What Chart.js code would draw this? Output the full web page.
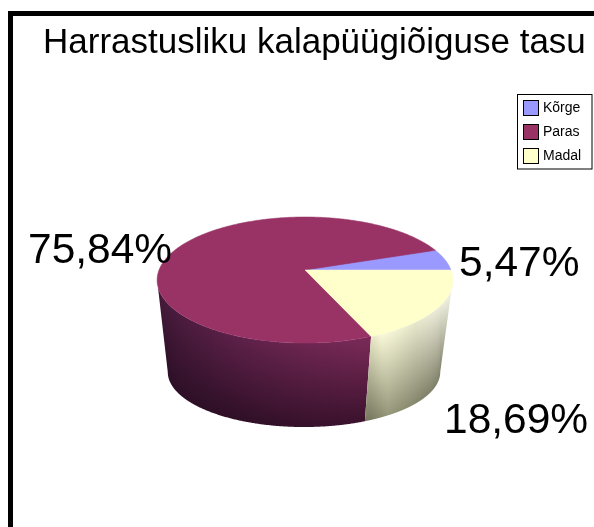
<!DOCTYPE html>
<html><head><meta charset="utf-8">
<style>html,body{margin:0;padding:0;background:#fff}canvas{display:block}</style>
<script src="https://cdn.jsdelivr.net/npm/chart.js@4"></script></head>
<body><canvas id="c" width="594" height="527"></canvas>
<script>
const titleText = "Harrastusliku kalapüügiõiguse tasu";
const categories = ["Kõrge", "Paras", "Madal"];
const shares = [5.47, 75.84, 18.69];
const colours = ["#9999ff", "#993366", "#ffffcc"];
const FONT = '"Liberation Sans", Arial, sans-serif';

// perspective model of the disc (unit circle -> screen)
const P = {c:-0.159, top:{x:305, y:270, k:61.45, R:146}, bot:{x:304, y:363.3, k:53.6, R:134.5}};
function proj(th, ring){
  const u = -Math.cos(th), v = Math.sin(th), w = 1 + P.c*v;   // mirrored: slices run counter-clockwise
  return [ring.x + ring.R*u/w, ring.y + ring.k*v/w];
}
function lerp(a,b,t){return a+(b-a)*t}
function shade(stops,t){
  if(t<=stops[0][0]) return stops[0].slice(1);
  for(let i=1;i<stops.length;i++){ if(t<=stops[i][0]){
    const s=stops[i-1],e=stops[i],f=(t-s[0])/(e[0]-s[0]||1);
    return [lerp(s[1],e[1],f),lerp(s[2],e[2],f),lerp(s[3],e[3],f)];
  }}
  return stops[stops.length-1].slice(1);
}
const rgb=c=>`rgb(${c.map(Math.round).join(',')})`;
const wallShade = {
  1:{top:[[0,68,26,58],[.25,92,32,72],[.7,122,42,88],[1,135,46,96]],
     bot:[[0,44,15,38],[.25,46,15,38],[.7,60,18,46],[1,72,20,52]]},
  2:{top:[[.72,228,228,196],[.76,250,250,218],[.87,232,232,205],[.96,236,236,220],[1,245,245,232]],
     bot:[[.72,120,120,95],[.78,150,150,122],[.9,130,130,106],[1,125,125,104]]}
};

function yAt(samples,x,idx){
  let best=samples[0],d=1e9;
  for(const s of samples){const q=Math.abs(s[0]-x);if(q<d){d=q;best=s;}}
  return best[1];
}

const pie3d = {
  id:'pie3d',
  beforeDraw(chart){
    const x=chart.ctx;
    x.save();x.fillStyle='#fff';x.fillRect(0,0,594,527);
    x.fillStyle='#000';x.fillRect(8,11,5,516);x.fillRect(8,11,586,5);
    x.restore();
  },
  beforeDatasetsDraw(chart){
    const x=chart.ctx, arcs=chart.getDatasetMeta(0).data, a0=arcs[0];
    x.save();
    arcs.forEach((a,i)=>{
      const sh=wallShade[i]; if(!sh) return;
      const tops=[],bots=[];
      for(let j=0;j<=720;j++){
        const th=lerp(a.startAngle,a.endAngle,j/720);
        if(Math.sin(th)<-P.c) continue;
        tops.push(proj(th,P.top));bots.push(proj(th,P.bot));
      }
      if(!tops.length) return;
      x.save();
      x.beginPath();
      tops.forEach((p,j)=>j?x.lineTo(...p):x.moveTo(...p));
      bots.slice().reverse().forEach(p=>x.lineTo(...p));
      x.closePath();x.clip();
      const xs=tops.concat(bots).map(p=>p[0]);
      const x0=Math.floor(Math.min(...xs)),x1=Math.ceil(Math.max(...xs));
      for(let px=x0;px<=x1;px++){
        const yt=yAt(tops,px+.5), yb=yAt(bots,px+.5);
        const t=(px+.5-P.top.x)/P.top.R/1.0129/2+.5;
        const g=x.createLinearGradient(0,yt,0,yb);
        g.addColorStop(0,rgb(shade(sh.top,t)));
        g.addColorStop(1,rgb(shade(sh.bot,t)));
        x.fillStyle=g;
        x.fillRect(px,150,1,320);
      }
      x.restore();
    });
    // library arcs, squashed and mirrored into the disc
    x.translate(P.top.x,280);
    x.scale(-144/a0.outerRadius,58/a0.outerRadius);
    x.translate(-a0.x,-a0.y);
  },
  afterDatasetsDraw(chart){
    const x=chart.ctx, arcs=chart.getDatasetMeta(0).data;
    x.restore();
    x.save();
    arcs.forEach((a,i)=>{
      x.beginPath();
      x.moveTo(P.top.x,P.top.y);
      const n=Math.ceil((a.endAngle-a.startAngle)*90);
      for(let j=0;j<=n;j++) x.lineTo(...proj(lerp(a.startAngle,a.endAngle,j/n),P.top));
      x.closePath();
      x.fillStyle=colours[i];x.fill();
      x.strokeStyle=colours[i];x.lineWidth=.5;x.stroke();
    });
    // text
    x.fillStyle='#000';x.textBaseline='alphabetic';x.textAlign='left';
    x.font='35px '+FONT;
    x.fillText(titleText,43,52.5);
    x.font='42.5px '+FONT;
    const fmt=v=>v.toFixed(2).replace('.',',')+'%';
    x.fillText(fmt(shares[1]),28,263);
    x.fillText(fmt(shares[0]),459,276);
    x.fillText(fmt(shares[2]),444,433);
    // legend
    x.fillStyle='#fff';x.strokeStyle='#000';x.lineWidth=1;
    x.fillRect(517,94,75,75);x.strokeRect(517.5,94.5,74.5,74.5);
    x.font='14px '+FONT;
    categories.forEach((c,i)=>{
      const y=100+i*24;
      x.fillStyle=colours[i];x.fillRect(523,y,15,15);
      x.strokeStyle='#000';x.strokeRect(523.5,y+.5,15,15);
      x.fillStyle='#000';x.fillText(c,543,y+12);
    });
    x.restore();
  }
};

new Chart(document.getElementById('c'),{
  type:'pie',
  data:{labels:categories,datasets:[{data:shares,backgroundColor:colours,borderWidth:0}]},
  options:{
    responsive:false,animation:false,rotation:270,
    layout:{padding:20},
    plugins:{legend:{display:false},tooltip:{enabled:false},title:{display:false}}
  },
  plugins:[pie3d]
});
</script></body></html>
